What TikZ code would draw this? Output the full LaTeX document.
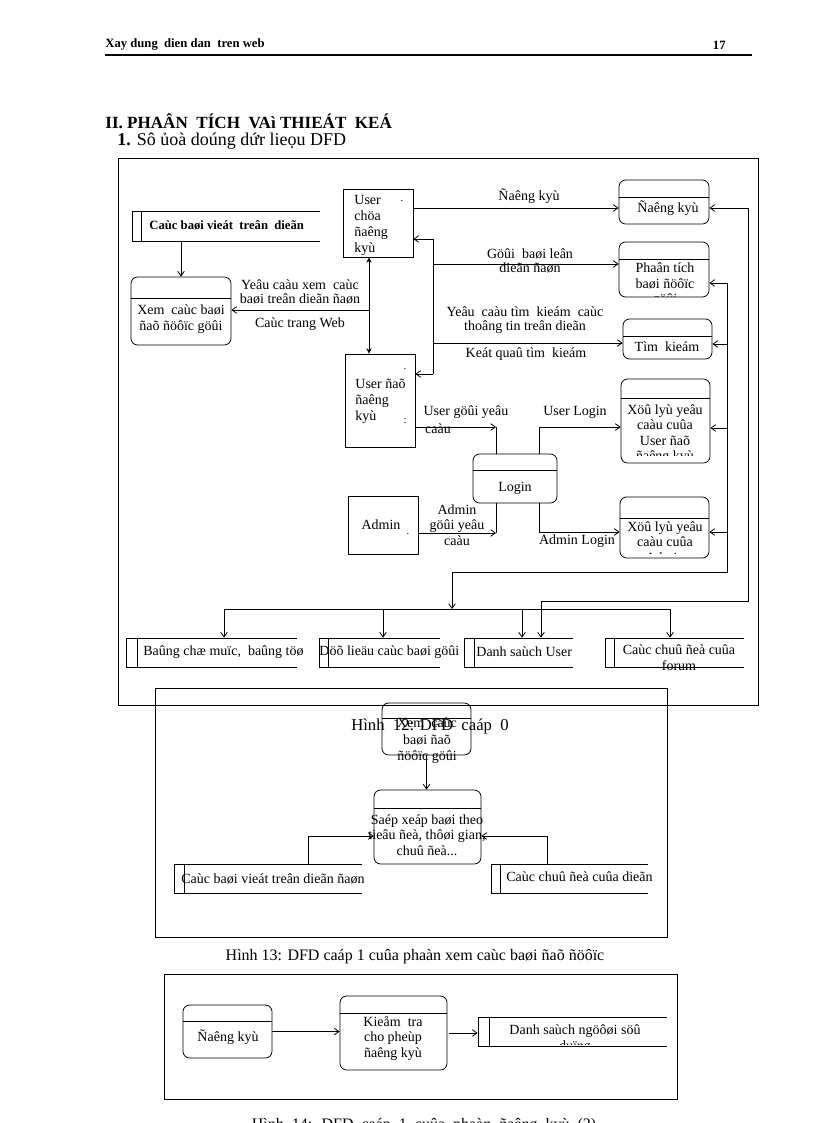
\documentclass[tikz,border=0pt]{standalone}
\usepackage{fontspec}
\setmainfont{Liberation Serif}
\usetikzlibrary{arrows.meta,fit}
\newcommand\fsz[2]{\fontsize{#1}{#2}\selectfont}
\newcommand\mkproc[6]{\node[proc, fit={(#2,#3) (#4,#5)}] (#1) {};\draw (#2,#6) -- (#4,#6);}
\newcommand\mkstore[6]{\node[blank, fit={(#2,#3) (#4,#5)}] (#1) {};\draw (#4,#3) -- (#2,#3) -- (#2,#5) -- (#4,#5);\draw (#6,#3) -- (#6,#5);}
\begin{document}
\begin{tikzpicture}[x=0.75pt,y=-0.75pt, line width=0.6pt, font=\fsz{10.5}{12},
 proc/.style={draw, rounded corners=5pt, inner sep=0pt},
 ent/.style={draw, inner sep=0pt},
 blank/.style={inner sep=0pt},
 frame/.style={draw, inner sep=0pt, line width=0.7pt},
 t/.style={inner sep=0pt, align=center},
 tl/.style={inner sep=0pt, align=left},
 lab/.style={inner sep=0pt, align=center, font=\fsz{10.5}{10.5}},
 dot/.style={inner sep=0pt, font=\fsz{8}{8}},
 flow/.style={-{Straight Barb[length=3.5pt,width=5pt]}},
 dflow/.style={{Stealth[length=4pt,width=4pt]}-{Stealth[length=4pt,width=4pt]}}]
\useasboundingbox (0,0) rectangle (816,1123);
\clip (0,0) rectangle (816,1123);
\fill[white] (0,0) rectangle (816,1123);

% header
\node[blank, anchor=west, font=\bfseries\fsz{9.5}{11}] (hdrl) at (105,45) {Xay dung~ dien dan~ tren web};
\node[blank, anchor=east, font=\bfseries\fsz{9.5}{11}] (hdrr) at (726,45) {17};
\draw[line width=1.5pt] (105,55) -- (752,55);
\node[blank, anchor=west, font=\bfseries\fsz{12.8}{15}] (h1) at (105,121) {II. PHAÂN~ TÍCH~ VAì THIEÁT~ KEÁ};
\node[blank, anchor=west, font=\fsz{13.5}{15}] (h2) at (117,141) {\textbf{1.} Sô ủoà doúng dứr lieọu DFD};

% frames
\node[frame, fit={(118,158) (758,705)}] (f1) {};
\node[frame, fit={(155,688) (667,937)}] (f2) {};
\node[frame, fit={(164,974) (677,1099)}] (f3) {};

% ---------- level 0 ----------
\node[ent, fit={(343,189) (413,257)}] (euc) {};
\node[tl, anchor=west] (euct) at (354,225) {User\\chöa\\ñaêng\\kyù};
\node[dot] (eucd) at (402,201) {.};

\node[ent, fit={(345,354) (415,447)}] (eud) {};
\node[tl, anchor=west] (eudt) at (355,401) {User ñaõ\\ñaêng\\kyù};
\node[dot] (eudd1) at (405,369) {.};
\node[dot] (eudd2) at (405,421) {:};

\mkstore{sbai}{132}{211}{320}{241}{141}
\node[blank, anchor=west, font=\bfseries\fsz{9.5}{11}] (sbait) at (149,225) {Caùc baøi vieát~ treân~ dieãn};

\mkproc{pxem}{131}{277}{231}{345}{298}
\node[t, font=\fsz{10.5}{11.6}] (pxemt) at (181,319) {Xem~ caùc baøi\\ñaõ ñöôïc göûi};
\draw[flow] (sbai.south -| pxem.north) -- (pxem.north);

\coordinate (j1) at (369,310);
\draw[dflow] (euc.south -| j1) -- (eud.north -| j1);
\draw[flow] (j1) -- (j1 -| pxem.east);
\node[lab] (l1) at (300,292) {Yeâu caàu xem~ caùc\\baøi treân dieãn ñaøn};
\node[lab] (l2) at (300,324) {Caùc trang Web};

\mkproc{pdk}{619}{180}{709}{224}{197}
\node[t] (pdkt) at (668,208) {Ñaêng kyù};
\draw[flow] (euc.east |- pdkt) -- (pdk.west |- pdkt);
\node[lab] (l3) at (529,196) {Ñaêng kyù};

\mkproc{ppt}{619}{242}{709}{297}{259}
\begin{scope}
\clip (619,242) rectangle (709,296);
\node[t, font=\fsz{10.5}{11.6}] (pptt) at (665,285) {Phaân tích\\baøi ñöôïc\\göûi};
\end{scope}

\mkproc{ptk}{623}{319}{712}{359}{336}
\node[t] (ptkt) at (667,347) {Tìm~ kieám};

\coordinate (v1t) at (433,239);
\coordinate (v1b) at (433,374);
\draw[flow] (v1t) -- (v1t -| euc.east);
\draw (v1t) -- (v1b);
\draw[flow] (v1b) -- (v1b -| eud.east);
\coordinate (cg) at (433,264);
\draw[flow] (cg) -- (cg -| ppt.west);
\node[lab] (l4) at (530,261) {Göûi~ baøi leân\\dieãn ñaøn};
\coordinate (ct) at (433,343);
\draw[flow] (ct) -- (ct -| ptk.west);
\node[lab] (l5) at (525,320) {Yeâu~ caàu tìm~ kieám~ caùc\\thoâng tin treân dieãn};
\node[lab] (l6) at (526,354) {Keát quaû tìm~ kieám};

% login
\mkproc{plg}{473}{454}{557}{503}{470}
\node[t] (plgt) at (515,488) {Login};
\coordinate (cu1) at (496,427);
\draw[flow] (cu1 -| eud.east) -- (cu1);
\draw (cu1) -- (cu1 |- plg.north);
\node[lab] (l7) at (466,412) {User göûi yeâu};
\node[lab] (l8) at (438,429) {caàu};

\mkproc{pxu}{621}{379}{710}{463}{398}
\begin{scope}
\clip (621,379) rectangle (710,455);
\node[t, font=\fsz{10.5}{11.5}] (pxut) at (665,434) {Xöû lyù yeâu\\caàu cuûa\\User ñaõ\\ñaêng kyù};
\end{scope}
\coordinate (cu2) at (539,427);
\draw[flow] (cu2 |- plg.north) -- (cu2) -- (cu2 -| pxu.west);
\node[lab] (l9) at (575,412) {User Login};

\node[ent, fit={(348,496) (418,554)}] (ead) {};
\node[t] (eadt) at (381,525) {Admin};
\node[dot] (eadd) at (408,534) {.};
\coordinate (ca1) at (496,533);
\draw[flow] (ca1 -| ead.east) -- (ca1);
\draw (ca1) -- (ca1 |- plg.south);
\node[lab, font=\fsz{10.5}{11.5}] (l10) at (457,525) {Admin\\göûi yeâu\\caàu};

\mkproc{pxa}{620}{497}{709}{558}{518}
\begin{scope}
\clip (620,497) rectangle (709,553);
\node[t, font=\fsz{10.5}{11.4}] (pxat) at (665,542) {Xöû lyù yeâu\\caàu cuûa\\Admin};
\end{scope}
\coordinate (ca2) at (539,532);
\draw[flow] (ca2 |- plg.south) -- (ca2) -- (ca2 -| pxa.west);
\node[lab] (l11) at (577,541) {Admin Login};

% stores at bottom
\mkstore{sbc}{126}{638}{297}{667}{137}
\node[blank, anchor=west] (sbct) at (143,652) {Baûng chæ muïc,~ baûng töø};
\mkstore{sdl}{319}{638}{440}{667}{328}
\node[blank, anchor=west] (sdlt) at (319,652) {Döõ lieäu caùc baøi göûi};
\mkstore{sds}{464}{638}{573}{667}{474}
\node[blank, anchor=west] (sdst) at (476,652) {Danh saùch User};
\mkstore{scc}{605}{638}{744}{667}{614}
\node[t, font=\fsz{10.5}{12}] (scct) at (679,658) {Caùc chuû ñeà cuûa\\forum};

% right side collectors
\coordinate (r1t) at (748,208);
\coordinate (r1b) at (748,601);
\coordinate (r1c) at (541,601);
\draw[flow] (r1t) -- (r1t -| pdk.east);
\draw (r1t) -- (r1b) -- (r1c);
\draw[flow] (r1c) -- (r1c |- sds.north);

\coordinate (r2t) at (727,283);
\coordinate (r2a) at (727,344);
\coordinate (r2u) at (727,428);
\coordinate (r2d) at (727,532);
\coordinate (r2b) at (727,572);
\coordinate (r2c) at (452,572);
\coordinate (bj) at (452,609);
\draw[flow] (r2t) -- (r2t -| ppt.east);
\draw (r2t) -- (r2b) -- (r2c);
\draw[flow] (r2a) -- (r2a -| ptk.east);
\draw[flow] (r2u) -- (r2u -| pxu.east);
\draw[flow] (r2d) -- (r2d -| pxa.east);
\draw[flow] (r2c) -- (bj);

\coordinate (bl) at (224,609);
\coordinate (b2) at (383,609);
\coordinate (b3) at (522,609);
\coordinate (br) at (670,609);
\draw (bl) -- (br);
\draw[flow] (bl) -- (bl |- sbc.north);
\draw[flow] (b2) -- (b2 |- sdl.north);
\draw[flow] (b3) -- (b3 |- sds.north);
\draw[flow] (br) -- (br |- scc.north);

% ---------- level 1 (xem bai) ----------
\node[blank, font=\fsz{12.5}{14}] (cap12) at (430,726) {Hình~ 12: DFD~ caáp~ 0};
\mkproc{px2}{382}{703}{471}{755}{718}
\node[t, font=\fsz{10.5}{12.4}] (px2t) at (427,741) {Xem~ caùc\\baøi ñaõ\\ñöôïc göûi};
\mkproc{psx}{374}{790}{481}{864}{808}
\node[t, font=\fsz{10.5}{11.6}] (psxt) at (427,835) {Saép xeáp baøi theo\\tieâu ñeà, thôøi gian,\\chuû ñeà...};
\draw[flow] (px2.south) -- (px2.south |- psx.north);
\mkstore{scb}{174}{864}{362}{893}{184}
\node[blank, anchor=west] (scbt) at (181,879) {Caùc baøi vieát treân dieãn ñaøn};
\mkstore{scd}{491}{864}{648}{893}{500}
\node[blank, anchor=west] (scdt) at (506,877) {Caùc chuû ñeà cuûa dieãn};
\coordinate (cl) at (308,836);
\coordinate (cr) at (547,836);
\draw[flow] (cl |- scb.north) -- (cl) -- (cl -| psx.west);
\draw[flow] (cr |- scd.north) -- (cr) -- (cr -| psx.east);
\node[blank, font=\fsz{12}{14}] (cap13) at (415,957) {Hình 13: DFD caáp 1 cuûa phaàn xem caùc baøi ñaõ ñöôïc};

% ---------- level 1 (dang ky) ----------
\mkproc{pdk2}{183}{1005}{272}{1058}{1021}
\node[t] (pdk2t) at (228,1037) {Ñaêng kyù};
\mkproc{pkt}{340}{996}{447}{1070}{1013}
\node[t, font=\fsz{10.5}{11.6}] (pktt) at (393,1038) {Kieåm~ tra\\cho pheùp\\ñaêng kyù};
\mkstore{sdn}{478}{1017}{667}{1046}{489}
\begin{scope}
\clip (478,1017) rectangle (667,1044);
\node[t, font=\fsz{10.5}{12}] (sdnt) at (575,1039) {Danh saùch ngöôøi söû\\duïng};
\end{scope}
\draw[flow] (pdk2.east) -- (pdk2.east -| pkt.west);
\draw[flow] ([xshift=1.5pt]pkt.east) -- (pkt.east -| sdn.west);
\node[blank, anchor=base, font=\fsz{12}{14}] (cap14) at (424,1129) {Hình~ 14:~ DFD~ caáp~ 1~ cuûa~ phaàn~ ñaêng~ kyù~ (2)};
\end{tikzpicture}
\end{document}
